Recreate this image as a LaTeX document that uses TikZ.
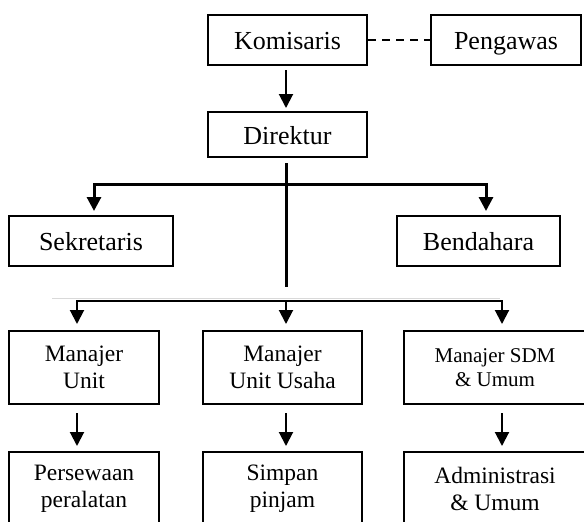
\documentclass[tikz,border=0pt]{standalone}
\usepackage{fontspec}
\setmainfont{Liberation Serif}
\usepackage{tikz}
\usetikzlibrary{arrows.meta,positioning}
\newcommand{\toptext}{\fontsize{13}{15}\selectfont}
\newcommand{\unittext}{\fontsize{11.75}{13.5}\selectfont}
\newcommand{\sdmtext}{\fontsize{10.5}{12}\selectfont}
\tikzset{
  block/.style={
    draw=black,
    line width=1pt,
    minimum height=25pt,
    inner sep=0pt,
    text height=9.6pt,
    text depth=0pt,
    align=center,
    font=\toptext
  },
  unitblock/.style={
    draw=black,
    line width=1pt,
    minimum height=36.5pt,
    inner sep=0pt,
    align=center,
    font=\unittext
  },
  flowarrow/.style={
    -{Triangle[length=7pt,width=7pt]},
    line width=1pt,
    draw=black
  },
  trunk/.style={
    line width=1.5pt,
    draw=black
  }
}

\begin{document}
\begin{tikzpicture}[x=0.5pt,y=-0.5pt]
\clip (0,0) rectangle (584,521);
\node[block, minimum width=79.5pt] (komisaris) at (287.5,40) {Komisaris};
\node[block, minimum width=75pt, right=31pt of komisaris] (pengawas) {Pengawas};
\node[block, minimum width=79.5pt, minimum height=22.5pt, below=22.5pt of komisaris] (direktur) {Direktur};
\node[block, minimum width=82pt] (sekretaris) at (91,241) {Sekretaris};
\node[block, minimum width=81.5pt] (bendahara) at (478.5,241) {Bendahara};
\node[unitblock, minimum width=75pt] (unit) at (84,367.5) {Manajer\\Unit};
\node[unitblock, minimum width=79.5pt] (usaha) at (282.5,367.5) {Manajer\\Unit Usaha};
\node[unitblock, minimum width=91pt, font=\sdmtext] (sdm) at (495,367.5) {Manajer SDM\\\& Umum};
\node[unitblock, minimum width=75pt, below=23pt of unit] (sewa) {Persewaan\\peralatan};
\node[unitblock, minimum width=79.5pt, below=23pt of usaha] (simpan) {Simpan\\pinjam};
\node[unitblock, minimum width=91pt, below=23pt of sdm] (admin) {Administrasi\\\& Umum};

\coordinate (hub) at (286,184);
\coordinate (stem) at (286,287);
\coordinate (split) at (286,301);

\draw[line width=1pt, dashed, dash pattern=on 4pt off 3pt] (komisaris) -- (pengawas);
\draw[flowarrow, shorten <=2pt, shorten >=1.5pt] ([xshift=-0.75pt]komisaris.south) -- ([xshift=-0.75pt]direktur.north);
\draw[trunk, shorten <=2.5pt] ([xshift=-0.75pt]direktur.south) -- (stem);
\draw[flowarrow, trunk, shorten >=2pt] (hub) -| ([xshift=1.5pt]sekretaris.north);
\draw[flowarrow, trunk, shorten >=2pt] (hub) -| ([xshift=3.75pt]bendahara.north);
\draw[gray!30, line width=0.5pt] (52,298) -- (500,298);
\draw[flowarrow, shorten >=3pt] (split) -| ([xshift=-3.5pt]unit.north);
\draw[flowarrow, shorten >=3pt] (split) -- ([xshift=1.75pt]usaha.north);
\draw[flowarrow, shorten >=3pt] (split) -| ([xshift=3.5pt]sdm.north);
\foreach \a/\b/\s in {unit/sewa/-3.5pt, usaha/simpan/1.75pt, sdm/admin/3.5pt}
  \draw[flowarrow, shorten <=4pt, shorten >=2.5pt] ([xshift=\s]\a.south) -- ([xshift=\s]\b.north);
\end{tikzpicture}
\end{document}
